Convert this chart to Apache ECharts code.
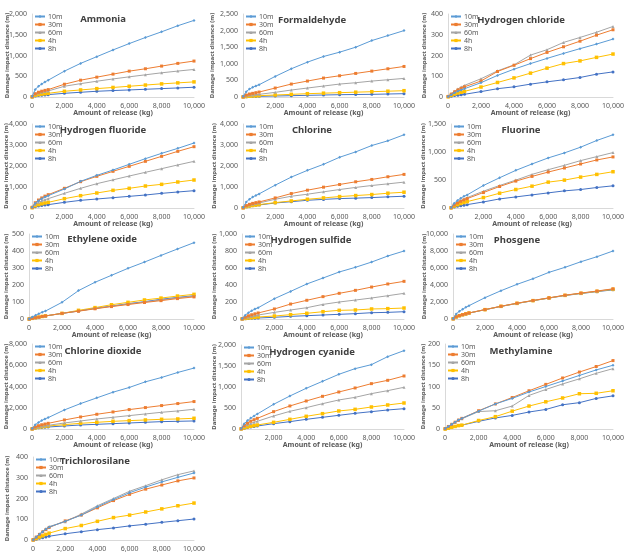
<!DOCTYPE html>
<html>
<head>
<meta charset="utf-8">
<script src="https://cdn.jsdelivr.net/npm/echarts@6/dist/echarts.min.js"></script>
<style>
  html, body { margin: 0; padding: 0; background: #fff; }
  #chart { width: 624px; height: 553px; }
</style>
</head>
<body>
<div id="chart"></div>
<script>
// release amounts (kg) on the x axis
var releaseKg = [10, 200, 400, 600, 800, 1000, 2000, 3000, 4000, 5000, 6000, 7000, 8000, 9000, 10000];
var seriesNames = ['10m', '30m', '60m', '4h', '8h'];
var chemicals = ['Ammonia', 'Formaldehyde', 'Hydrogen chloride', 'Hydrogen fluoride', 'Chlorine', 'Fluorine',
    'Ethylene oxide', 'Hydrogen sulfide', 'Phosgene', 'Chlorine dioxide', 'Hydrogen cyanide', 'Methylamine', 'Trichlorosilane'];
var yMax = [2000, 2500, 400, 4000, 4000, 1500, 500, 1000, 10000, 8000, 2000, 200, 400];
var yStep = [500, 500, 100, 1000, 1000, 500, 100, 200, 2000, 2000, 500, 50, 100];

// damage impact distance (m), one row per series: 10m, 30m, 60m, 4h, 8h
var ammonia = [
    [20, 180, 260, 315, 362, 405, 623, 810, 972, 1134, 1287, 1433, 1571, 1717, 1846],
    [8, 80, 115, 140, 160, 178, 308, 405, 478, 551, 623, 680, 745, 810, 866],
    [6, 65, 95, 115, 132, 146, 259, 322, 380, 435, 486, 535, 583, 625, 664],
    [4, 40, 57, 70, 80, 89, 138, 170, 202, 230, 259, 288, 316, 340, 364],
    [3, 25, 36, 44, 51, 57, 89, 114, 138, 155, 170, 186, 202, 218, 235]
];
var formaldehyde = [
    [20, 160, 240, 290, 335, 370, 620, 850, 1050, 1220, 1350, 1500, 1700, 1850, 2000],
    [6, 60, 90, 110, 130, 150, 270, 390, 480, 570, 640, 710, 780, 850, 920],
    [4, 33, 50, 62, 72, 80, 140, 210, 270, 330, 390, 430, 480, 520, 560],
    [2, 15, 24, 30, 35, 40, 60, 80, 100, 115, 130, 145, 160, 175, 190],
    [1, 8, 12, 15, 18, 20, 30, 40, 50, 60, 70, 75, 80, 90, 100]
];
var hydrogenChloride = [
    [2, 11, 20, 28, 34, 40, 69, 104, 134, 161, 186, 210, 233, 255, 279],
    [3, 14, 25, 34, 42, 49, 77, 123, 153, 185, 215, 242, 269, 298, 324],
    [3, 16, 28, 39, 48, 56, 88, 126, 155, 202, 228, 263, 287, 312, 340],
    [1, 8, 14, 19, 23, 27, 48, 70, 92, 115, 139, 161, 174, 191, 207],
    [1, 4, 7, 9, 11, 13, 26, 40, 49, 62, 73, 83, 94, 110, 121]
];
var hydrogenFluoride = [
    [30, 230, 350, 440, 520, 587, 905, 1270, 1555, 1809, 2079, 2349, 2603, 2840, 3095],
    [35, 250, 380, 480, 565, 635, 937, 1254, 1508, 1746, 1984, 2222, 2460, 2698, 2920],
    [25, 180, 270, 340, 395, 444, 698, 937, 1158, 1340, 1523, 1700, 1873, 2050, 2222],
    [15, 105, 160, 200, 240, 270, 444, 587, 714, 841, 937, 1047, 1127, 1238, 1333],
    [10, 65, 95, 120, 140, 159, 270, 365, 428, 492, 555, 619, 698, 762, 825]
];
var chlorine = [
    [40, 280, 420, 520, 600, 672, 1088, 1472, 1792, 2080, 2416, 2672, 2976, 3200, 3488],
    [15, 115, 175, 220, 255, 288, 480, 688, 848, 992, 1120, 1248, 1360, 1488, 1600],
    [12, 95, 145, 180, 212, 240, 416, 560, 656, 770, 880, 980, 1072, 1150, 1232],
    [8, 65, 98, 123, 143, 160, 256, 336, 416, 480, 544, 592, 640, 704, 752],
    [7, 58, 88, 110, 128, 144, 240, 300, 368, 410, 448, 470, 496, 530, 560]
];
var fluorine = [
    [10, 85, 135, 175, 208, 234, 402, 540, 672, 786, 894, 984, 1086, 1206, 1308],
    [6, 55, 90, 120, 145, 168, 276, 384, 480, 564, 642, 714, 786, 858, 912],
    [7, 60, 100, 132, 160, 186, 300, 402, 498, 600, 684, 762, 846, 918, 990],
    [4, 35, 58, 80, 98, 114, 186, 264, 330, 390, 462, 498, 552, 600, 648],
    [2, 18, 30, 41, 51, 60, 108, 162, 198, 234, 270, 306, 330, 366, 396]
];
var ethyleneOxide = [
    [1, 12, 22, 31, 40, 47, 98, 167, 216, 257, 298, 335, 374, 412, 449],
    [0, 4, 8, 11, 15, 18, 33, 46, 60, 73, 85, 97, 108, 120, 130],
    [0, 4, 8, 11, 15, 18, 33, 47, 62, 75, 88, 100, 112, 124, 135],
    [0, 4, 8, 11, 15, 18, 33, 51, 67, 84, 98, 112, 123, 135, 145],
    [0, 4, 8, 11, 15, 18, 33, 47, 63, 76, 90, 102, 116, 127, 137]
];
var hydrogenSulfide = [
    [5, 45, 75, 98, 117, 133, 239, 325, 412, 482, 553, 608, 670, 741, 800],
    [2, 22, 38, 50, 61, 71, 118, 176, 220, 263, 302, 337, 376, 412, 443],
    [1, 14, 24, 33, 40, 47, 78, 106, 133, 172, 200, 223, 247, 274, 302],
    [1, 7, 12, 16, 20, 24, 35, 51, 67, 86, 102, 106, 118, 122, 129],
    [0, 4, 6, 8, 10, 12, 20, 31, 39, 47, 55, 63, 74, 78, 86]
];
var phosgene = [
    [60, 600, 900, 1150, 1370, 1570, 2510, 3330, 4080, 4740, 5490, 6080, 6740, 7330, 8000],
    [25, 260, 400, 510, 610, 710, 1110, 1500, 1860, 2180, 2490, 2800, 3050, 3290, 3550],
    [25, 255, 395, 505, 605, 705, 1105, 1495, 1850, 2170, 2480, 2790, 3030, 3270, 3520],
    [25, 250, 390, 500, 600, 700, 1100, 1490, 1840, 2160, 2470, 2780, 3020, 3250, 3490],
    [25, 245, 385, 495, 595, 695, 1090, 1480, 1830, 2150, 2460, 2760, 3000, 3220, 3430]
];
var chlorineDioxide = [
    [40, 400, 620, 800, 950, 1071, 1795, 2394, 2930, 3465, 3906, 4441, 4851, 5323, 5733],
    [20, 200, 310, 400, 470, 535, 850, 1134, 1386, 1606, 1827, 2016, 2205, 2394, 2583],
    [12, 130, 200, 255, 305, 346, 567, 756, 945, 1102, 1260, 1417, 1575, 1700, 1858],
    [10, 105, 160, 205, 245, 283, 409, 535, 630, 724, 787, 850, 913, 945, 1008],
    [7, 70, 107, 137, 165, 189, 283, 378, 441, 504, 567, 630, 693, 724, 756]
];
var hydrogenCyanide = [
    [10, 125, 200, 260, 312, 357, 588, 786, 969, 1135, 1302, 1437, 1532, 1723, 1866],
    [7, 85, 140, 185, 222, 254, 413, 548, 667, 778, 881, 977, 1080, 1159, 1262],
    [5, 60, 100, 133, 160, 183, 310, 421, 508, 603, 691, 754, 842, 913, 993],
    [2, 28, 48, 66, 81, 95, 159, 230, 302, 365, 429, 468, 524, 572, 619],
    [2, 20, 36, 49, 60, 71, 127, 175, 230, 278, 326, 373, 413, 453, 484]
];
var methylamine = [
    [1, 6, 11, 16, 21, 25, 42, 59, 72, 87, 100, 113, 126, 139, 150],
    [1, 6, 11, 16, 21, 25, 43, 59, 74, 90, 105, 120, 134, 147, 161],
    [1, 6, 11, 16, 20, 24, 41, 43, 54, 79, 93, 106, 118, 131, 142],
    [0, 2, 4, 6, 8, 9, 20, 29, 42, 54, 64, 73, 83, 84, 90],
    [0, 2, 4, 6, 8, 9, 18, 26, 32, 40, 46, 57, 62, 72, 78]
];
var trichlorosilane = [
    [1, 14, 28, 40, 52, 62, 90, 120, 160, 195, 228, 255, 280, 302, 323],
    [1, 14, 27, 39, 50, 60, 92, 120, 155, 190, 220, 245, 265, 285, 299],
    [1, 15, 29, 42, 54, 65, 88, 125, 165, 200, 235, 262, 290, 315, 333],
    [0, 7, 14, 20, 27, 33, 55, 70, 90, 108, 120, 135, 150, 165, 178],
    [0, 4, 8, 11, 15, 18, 30, 40, 50, 58, 68, 76, 85, 93, 101]
];

var allData = [ammonia, formaldehyde, hydrogenChloride, hydrogenFluoride, chlorine, fluorine,
    ethyleneOxide, hydrogenSulfide, phosgene, chlorineDioxide, hydrogenCyanide, methylamine, trichlorosilane];

// panel geometry in px: plot left, top, width, height, title centre x/y, y-name centre x
var panels = [
    [32, 14, 162, 83, 103, 14, 7],
    [243, 14, 161, 83, 312, 15, 212],
    [448, 14, 165, 83, 521, 15, 424],
    [32, 124, 162, 84, 103, 125, 6],
    [243, 124, 161, 84, 312, 125, 214],
    [451, 124, 162, 84, 521, 125, 423],
    [29, 234, 165, 85, 102, 234, 6],
    [242, 234, 162, 85, 311, 235, 214],
    [453, 234, 160, 85, 517, 235, 424],
    [32, 344, 162, 85, 103, 346, 6],
    [241, 345, 163, 84, 312, 347, 214],
    [445, 344, 168, 85, 521, 346, 423],
    [33, 457, 161, 83, 95, 456, 7]
];

var colors = ['#5B9BD5', '#ED7D31', '#A5A5A5', '#FFC000', '#4472C4'];
var symbols = ['diamond', 'rect', 'triangle', 'rect', 'circle'];
var fontFam = '"Noto Sans", "Open Sans", sans-serif';

function fmt(v) {
    return v.toLocaleString('en-US');
}

var grids = [], xAxes = [], yAxes = [], series = [], legends = [], titles = [];
panels.forEach(function(p, i) {
    // outerBoundsMode none: the bottom panel's axis name is allowed to fall off the page
    grids.push({left: p[0], top: p[1], width: p[2], height: p[3], outerBoundsMode: 'none'});
    xAxes.push({
        type: 'value', gridIndex: i, min: 0, max: 10000, interval: 2000,
        name: 'Amount of release (kg)', nameLocation: 'middle', nameGap: 12, nameMoveOverlap: false,
        nameTextStyle: {fontSize: 7, fontWeight: 'bold', color: '#595959', fontFamily: fontFam},
        axisLine: {show: true, lineStyle: {color: '#d9d9d9'}},
        axisTick: {show: false},
        splitLine: {show: false},
        axisLabel: {fontSize: 7, color: '#595959', margin: 5, fontFamily: fontFam, formatter: fmt}
    });
    yAxes.push({
        type: 'value', gridIndex: i, min: 0, max: yMax[i], interval: yStep[i],
        name: 'Damage impact distance (m)', nameLocation: 'middle', nameGap: p[0] - p[6] - 3,
        nameMoveOverlap: false,
        nameTextStyle: {fontSize: 6, fontWeight: 'bold', color: '#595959', fontFamily: fontFam},
        axisLine: {show: true, lineStyle: {color: '#d9d9d9'}},
        axisTick: {show: false},
        splitLine: {show: false},
        axisLabel: {fontSize: 7, color: '#595959', margin: 5, fontFamily: fontFam, formatter: fmt}
    });
    titles.push({
        text: chemicals[i], left: p[4], top: p[5], textAlign: 'center', padding: 0,
        textStyle: {fontSize: 9.5, fontWeight: 'bold', color: '#404040', fontFamily: fontFam}
    });
    legends.push({
        data: seriesNames, orient: 'vertical', left: p[0] + 2, top: p[1] - 1,
        itemWidth: 10, itemHeight: 4, itemGap: 1, padding: 0,
        textStyle: {fontSize: 7, color: '#595959', lineHeight: 7, padding: [0, 0, 0, -2], fontFamily: fontFam}
    });
    allData[i].forEach(function(vals, s) {
        series.push({
            type: 'line', name: seriesNames[s], xAxisIndex: i, yAxisIndex: i,
            data: releaseKg.map(function(x, k) { return [x, vals[k]]; }),
            symbol: symbols[s], symbolSize: s === 3 ? 3.5 : 3,
            color: colors[s],
            lineStyle: {width: 1},
            z: 10 - s
        });
    });
});

var myChart = echarts.init(document.getElementById('chart'));
myChart.setOption({
    animation: false,
    title: titles,
    legend: legends,
    grid: grids,
    xAxis: xAxes,
    yAxis: yAxes,
    series: series
});
</script>
</body>
</html>
